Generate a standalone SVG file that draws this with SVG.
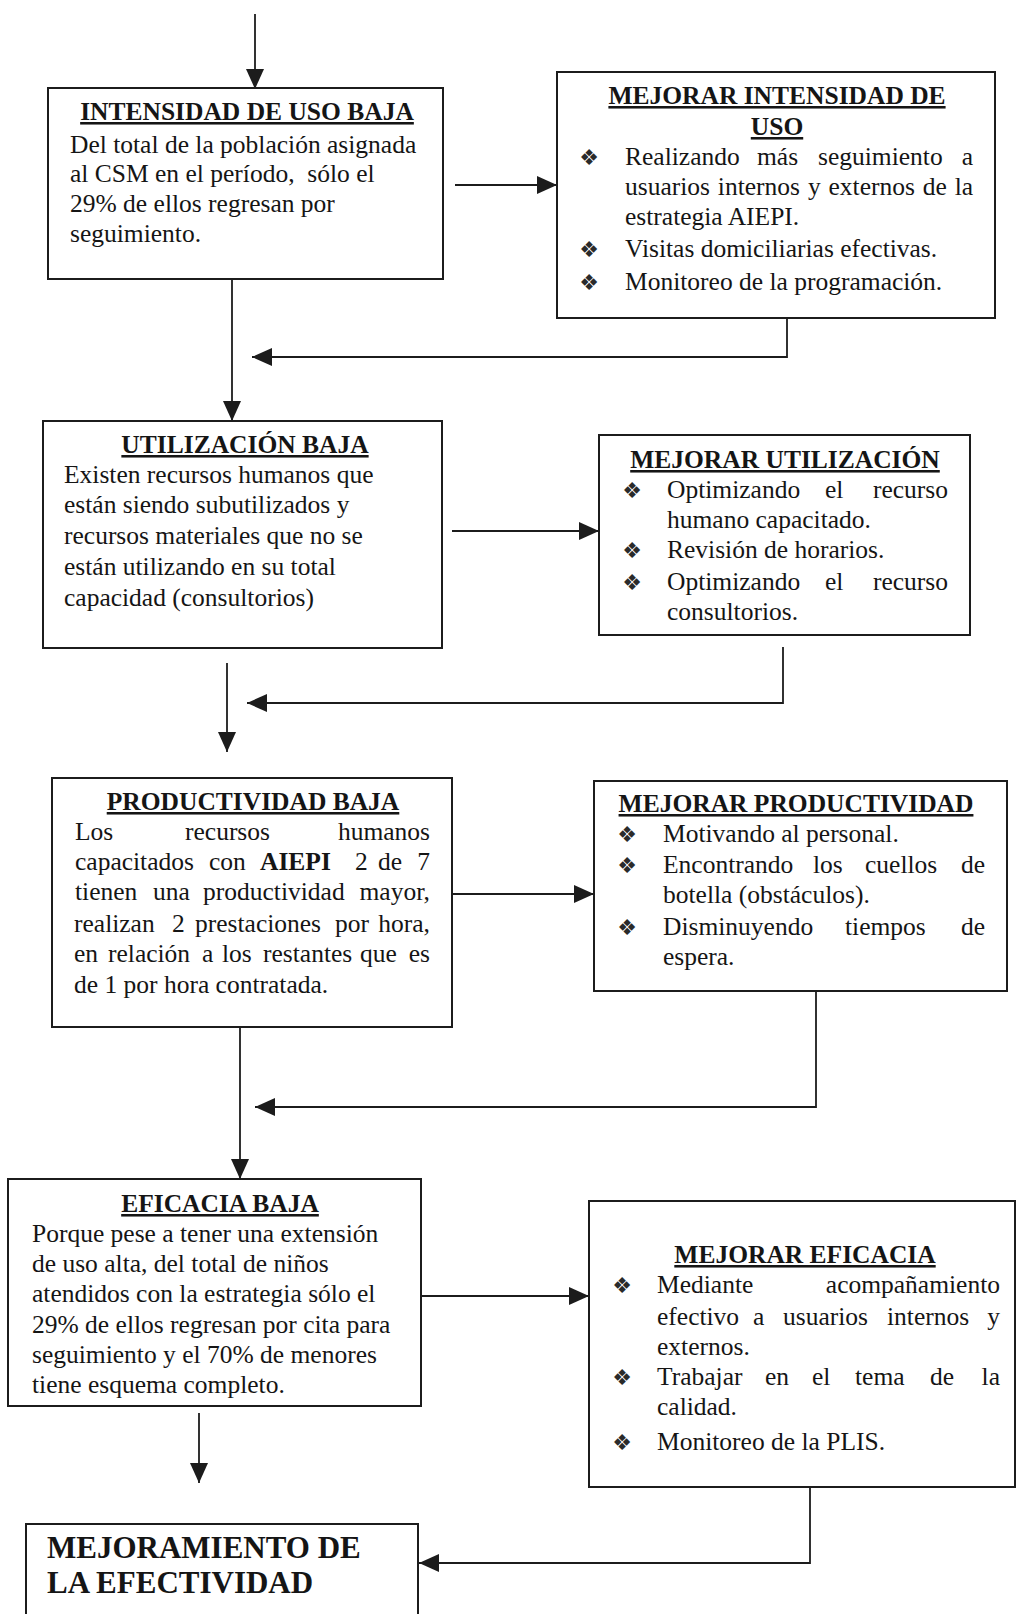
<svg xmlns="http://www.w3.org/2000/svg" width="1017" height="1614" viewBox="0 0 1017 1614">
<style>
.t{font-family:"Liberation Serif","Times New Roman",serif;font-size:25.5px;fill:#151515}
.h{font-weight:bold;text-decoration:underline;text-anchor:middle}
.big{font-weight:bold;font-size:31px}
.e{text-anchor:end}
.bl{font-family:"DejaVu Sans",sans-serif;font-size:22px;fill:#2a2a2a;text-anchor:middle}
.box{fill:#fff;stroke:#1c1c1c;stroke-width:2}
.c{stroke:#1c1c1c;stroke-width:1.8;fill:none;marker-end:url(#ah)}
</style>
<defs>
<marker id="ah" viewBox="0 0 20 18" refX="20" refY="9" markerUnits="userSpaceOnUse" markerWidth="20" markerHeight="18" orient="auto">
<path d="M0,0 L20,9 L0,18 Z" fill="#1c1c1c"/>
</marker>
</defs>
<rect width="1017" height="1614" fill="#fff"/>

<g id="connectors">
<path class="c" d="M255,14 V89"/>
<path class="c" d="M455,185 H557"/>
<path class="c" d="M787,318 V357 H252"/>
<path class="c" d="M232,279 V421"/>
<path class="c" d="M452,531 H599"/>
<path class="c" d="M783,647 V703 H247"/>
<path class="c" d="M227,663 V752"/>
<path class="c" d="M445,894 H594"/>
<path class="c" d="M816,991 V1107 H255"/>
<path class="c" d="M240,1027 V1179"/>
<path class="c" d="M421,1296 H589"/>
<path class="c" d="M810,1487 V1563 H419"/>
<path class="c" d="M199,1413 V1483"/>
</g>

<g id="intensidad">
<rect class="box" x="48" y="88" width="395" height="191"/>
<text class="t h" x="247" y="120">INTENSIDAD DE USO BAJA</text>
<text class="t" x="70" y="153">Del total de la población asignada</text>
<text class="t" x="70" y="182">al CSM en el período,&#160; sólo el</text>
<text class="t" x="70" y="212">29% de ellos regresan por</text>
<text class="t" x="70" y="242">seguimiento.</text>
</g>

<g id="mejorar-intensidad">
<rect class="box" x="557" y="72" width="438" height="246"/>
<text class="t h" x="777" y="104">MEJORAR INTENSIDAD DE</text>
<text class="t h" x="777" y="135">USO</text>
<text class="bl" x="589" y="165">❖</text>
<text class="t" x="625" y="165">Realizando</text>
<text class="t" x="757" y="165">más</text>
<text class="t" x="818" y="165">seguimiento</text>
<text class="t e" x="973" y="165">a</text>
<text class="t" x="625" y="195" word-spacing="1.5">usuarios internos y externos de la</text>
<text class="t" x="625" y="225">estrategia AIEPI.</text>
<text class="bl" x="589" y="257">❖</text>
<text class="t" x="625" y="257">Visitas domiciliarias efectivas.</text>
<text class="bl" x="589" y="290">❖</text>
<text class="t" x="625" y="290">Monitoreo de la programación.</text>
</g>

<g id="utilizacion">
<rect class="box" x="43" y="421" width="399" height="227"/>
<text class="t h" x="245" y="453">UTILIZACIÓN BAJA</text>
<text class="t" x="64" y="483">Existen recursos humanos que</text>
<text class="t" x="64" y="513">están siendo subutilizados y</text>
<text class="t" x="64" y="544">recursos materiales que no se</text>
<text class="t" x="64" y="575">están utilizando en su total</text>
<text class="t" x="64" y="606">capacidad (consultorios)</text>
</g>

<g id="mejorar-utilizacion">
<rect class="box" x="599" y="435" width="371" height="200"/>
<text class="t h" x="785" y="468">MEJORAR UTILIZACIÓN</text>
<text class="bl" x="632" y="498">❖</text>
<text class="t" x="667" y="498">Optimizando</text>
<text class="t" x="825" y="498">el</text>
<text class="t e" x="948" y="498">recurso</text>
<text class="t" x="667" y="528">humano capacitado.</text>
<text class="bl" x="632" y="558">❖</text>
<text class="t" x="667" y="558">Revisión de horarios.</text>
<text class="bl" x="632" y="590">❖</text>
<text class="t" x="667" y="590">Optimizando</text>
<text class="t" x="825" y="590">el</text>
<text class="t e" x="948" y="590">recurso</text>
<text class="t" x="667" y="620">consultorios.</text>
</g>

<g id="productividad">
<rect class="box" x="52" y="778" width="400" height="249"/>
<text class="t h" x="253" y="810">PRODUCTIVIDAD BAJA</text>
<text class="t" x="75" y="840">Los</text>
<text class="t" x="185" y="840">recursos</text>
<text class="t e" x="430" y="840">humanos</text>
<text class="t" x="75" y="870">capacitados</text>
<text class="t" x="209" y="870">con</text>
<text class="t" x="260" y="870" font-weight="bold">AIEPI</text>
<text class="t" x="355" y="870">2</text>
<text class="t" x="378" y="870">de</text>
<text class="t e" x="430" y="870">7</text>
<text class="t" x="75" y="900">tienen</text>
<text class="t" x="153" y="900">una</text>
<text class="t" x="203" y="900">productividad</text>
<text class="t e" x="430" y="900">mayor,</text>
<text class="t" x="74" y="932">realizan</text>
<text class="t" x="172" y="932">2</text>
<text class="t" x="195" y="932">prestaciones</text>
<text class="t" x="335" y="932">por</text>
<text class="t e" x="430" y="932">hora,</text>
<text class="t" x="74" y="962">en</text>
<text class="t" x="108" y="962">relación</text>
<text class="t" x="202" y="962">a</text>
<text class="t" x="222" y="962">los</text>
<text class="t" x="263" y="962">restantes</text>
<text class="t" x="360" y="962">que</text>
<text class="t e" x="430" y="962">es</text>
<text class="t" x="74" y="993">de 1 por hora contratada.</text>
</g>

<g id="mejorar-productividad">
<rect class="box" x="594" y="781" width="413" height="210"/>
<text class="t h" x="796" y="812">MEJORAR PRODUCTIVIDAD</text>
<text class="bl" x="627" y="842">❖</text>
<text class="t" x="663" y="842">Motivando al personal.</text>
<text class="bl" x="627" y="873">❖</text>
<text class="t" x="663" y="873">Encontrando</text>
<text class="t" x="813" y="873">los</text>
<text class="t" x="865" y="873">cuellos</text>
<text class="t e" x="985" y="873">de</text>
<text class="t" x="663" y="903">botella (obstáculos).</text>
<text class="bl" x="627" y="935">❖</text>
<text class="t" x="663" y="935">Disminuyendo</text>
<text class="t" x="845" y="935">tiempos</text>
<text class="t e" x="985" y="935">de</text>
<text class="t" x="663" y="965">espera.</text>
</g>

<g id="eficacia">
<rect class="box" x="8" y="1179" width="413" height="227"/>
<text class="t h" x="220" y="1212">EFICACIA BAJA</text>
<text class="t" x="32" y="1242">Porque pese a tener una extensión</text>
<text class="t" x="32" y="1272">de uso alta, del total de niños</text>
<text class="t" x="32" y="1302">atendidos con la estrategia sólo el</text>
<text class="t" x="32" y="1333">29% de ellos regresan por cita para</text>
<text class="t" x="32" y="1363">seguimiento y el 70% de menores</text>
<text class="t" x="32" y="1393">tiene esquema completo.</text>
</g>

<g id="mejorar-eficacia">
<rect class="box" x="589" y="1201" width="426" height="286"/>
<text class="t h" x="805" y="1263">MEJORAR EFICACIA</text>
<text class="bl" x="622" y="1293">❖</text>
<text class="t" x="657" y="1293">Mediante</text>
<text class="t e" x="1000" y="1293">acompañamiento</text>
<text class="t" x="657" y="1325">efectivo</text>
<text class="t" x="753" y="1325">a</text>
<text class="t" x="783" y="1325">usuarios</text>
<text class="t" x="887" y="1325">internos</text>
<text class="t e" x="1000" y="1325">y</text>
<text class="t" x="657" y="1355">externos.</text>
<text class="bl" x="622" y="1385">❖</text>
<text class="t" x="657" y="1385">Trabajar</text>
<text class="t" x="765" y="1385">en</text>
<text class="t" x="812" y="1385">el</text>
<text class="t" x="855" y="1385">tema</text>
<text class="t" x="930" y="1385">de</text>
<text class="t e" x="1000" y="1385">la</text>
<text class="t" x="657" y="1415">calidad.</text>
<text class="bl" x="622" y="1450">❖</text>
<text class="t" x="657" y="1450">Monitoreo de la PLIS.</text>
</g>

<g id="mejoramiento-efectividad">
<rect class="box" x="26" y="1524" width="392" height="120"/>
<text class="t big" x="47" y="1558">MEJORAMIENTO DE</text>
<text class="t big" x="47" y="1593">LA EFECTIVIDAD</text>
</g>
</svg>
